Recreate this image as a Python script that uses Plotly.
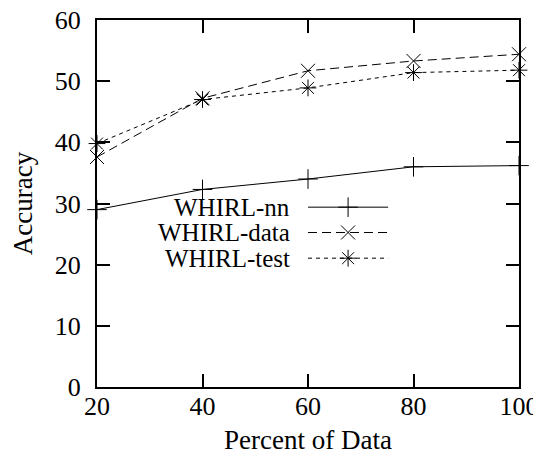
import plotly.graph_objects as go

x_pct = [20, 40, 60, 80, 100]
whirl_nn = [29.0, 32.3, 34.0, 36.0, 36.2]
whirl_data = [37.6, 47.2, 51.7, 53.3, 54.4]
whirl_test = [39.8, 47.0, 48.9, 51.4, 51.8]
names = ["WHIRL-nn", "WHIRL-data", "WHIRL-test"]
x_ticks = [20, 40, 60, 80, 100]
y_ticks = [0, 10, 20, 30, 40, 50, 60]

FONT = "Liberation Serif"
FS = 26
styles = [
    dict(dash="solid", symbol="cross-thin-open"),
    dict(dash="9px,5px", symbol="x-thin-open"),
    dict(dash="4px,4px", symbol="asterisk-open"),
]
series = [whirl_nn, whirl_data, whirl_test]

fig = go.Figure()
for name, ys, st in zip(names, series, styles):
    fig.add_trace(go.Scatter(
        x=x_pct, y=ys, name=name, mode="lines+markers",
        line=dict(color="black", width=1, dash=st["dash"]),
        marker=dict(symbol=st["symbol"], size=14, color="black",
                    line=dict(color="black", width=1)),
        showlegend=False, cliponaxis=False,
    ))

# manual legend (text left, sample right) on an overlay axis in fractions
leg_rows = [0.490, 0.421, 0.351]
for name, st, yr in zip(names, styles, leg_rows):
    fig.add_trace(go.Scatter(
        x=[0.50, 0.69], y=[yr, yr], mode="lines", xaxis="x2", yaxis="y2",
        line=dict(color="black", width=1, dash=st["dash"]), showlegend=False,
        hoverinfo="skip"))
    fig.add_trace(go.Scatter(
        x=[0.595], y=[yr], mode="markers", xaxis="x2", yaxis="y2",
        marker=dict(symbol=st["symbol"], size=14, color="black",
                    line=dict(color="black", width=1)),
        showlegend=False, hoverinfo="skip"))
    fig.add_annotation(x=0.462, y=yr, xref="paper", yref="paper", text=name,
                       showarrow=False, xanchor="right", yanchor="middle",
                       font=dict(family=FONT, size=25, color="black"))

axis_common = dict(
    showline=True, linecolor="black", linewidth=2, mirror="ticks",
    ticks="inside", ticklen=13, tickwidth=2, tickcolor="black",
    showgrid=False, zeroline=False, automargin=False,
    ticklabeloverflow="allow",
    tickfont=dict(family=FONT, size=FS, color="black"),
)

# page body has an 8px margin, so the figure is 8px smaller and margins trimmed
fig.update_layout(
    width=533, height=460,
    margin=dict(l=89, r=22, t=12, b=81),
    paper_bgcolor="white", plot_bgcolor="white",
    xaxis=dict(range=[20, 100], tickvals=x_ticks, ticktext=[str(v) for v in x_ticks],
               ticklabelstandoff=-5,
               title=dict(text="Percent of Data", font=dict(family=FONT, size=27, color="black"),
                          standoff=10),
               **axis_common),
    yaxis=dict(range=[0, 60], tickvals=y_ticks, ticktext=[str(v) for v in y_ticks],
               ticklabelstandoff=9,
               title=dict(text="Accuracy", font=dict(family=FONT, size=27, color="black"),
                          standoff=19),
               **axis_common),
    xaxis2=dict(range=[0, 1], overlaying="x", visible=False, fixedrange=True),
    yaxis2=dict(range=[0, 1], overlaying="y", visible=False, fixedrange=True),
    showlegend=False,
)

fig.write_html("out.html")
